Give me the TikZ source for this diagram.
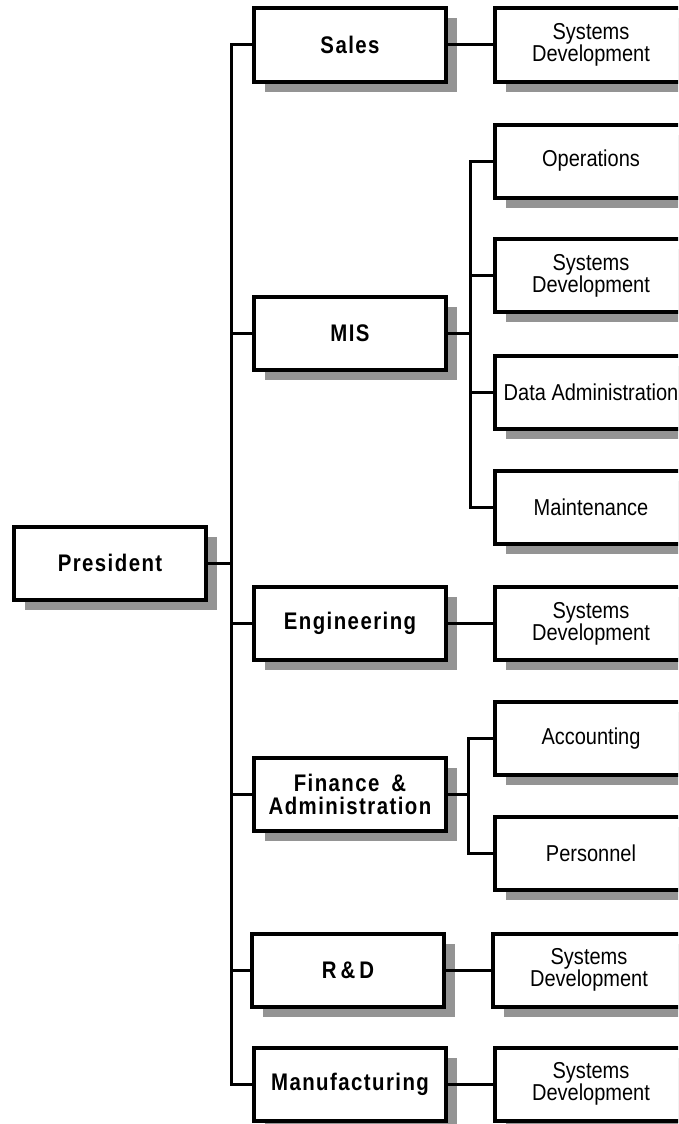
\documentclass[tikz,border=0pt]{standalone}
\usepackage{fontspec}
\newfontfamily\leftfont[LetterSpace=6,FakeStretch=0.85]{Liberation Sans}
\newfontfamily\rightfont[FakeStretch=0.87]{Liberation Sans}
\usetikzlibrary{shadows}
\tikzset{
  box/.style={draw, line width=4pt, fill=white, minimum width=192pt, minimum height=73pt,
    inner sep=0pt, align=center,
    drop shadow={shadow xshift=11pt, shadow yshift=-10pt, fill=black!42, opacity=1}},
  lbox/.style={box, font=\leftfont\bfseries\fontsize{24}{23}\selectfont},
  rbox/.style={box, font=\rightfont\fontsize{23}{22}\selectfont},
  wire/.style={line width=3pt, line join=miter}
}
\begin{document}
\begin{tikzpicture}[x=1pt, y=-1pt]
\path[use as bounding box] (0,0) rectangle (678,1124);
\clip (0,0) rectangle (678,1124);
% left column
\node[lbox] (pres) at (110,563) {President};
\node[lbox] (sales) at (350,45) {Sales};
\node[lbox] (mis) at (350,333.5) {MIS};
\node[lbox] (eng) at (350,623.5) {Engineering};
\node[lbox] (fin) at (350,794) {Finance\enspace\&\\Administration};
\node[lbox] (rd) at (348,970) {R\,\&\,D};
\node[lbox] (mfg) at (350,1084) {Manufacturing};
% right column
\node[rbox] (sd1) at (591,45) {Systems\\Development};
\node[rbox] (ops) at (591,161) {Operations};
\node[rbox] (sd2) at (591,275.5) {Systems\\Development};
\node[rbox] (dat) at (591,392.5) {Data Administration};
\node[rbox] (mnt) at (591,507.5) {Maintenance};
\node[rbox] (sd3) at (591,623.5) {Systems\\Development};
\node[rbox] (acc) at (591,738.5) {Accounting};
\node[rbox] (per) at (591,853.5) {Personnel};
\node[rbox] (sd4) at (589,970) {Systems\\Development};
\node[rbox] (sd5) at (591,1084) {Systems\\Development};
% bus coordinates
\coordinate (bus) at (231,0);
\coordinate (subm) at (470,0);
\coordinate (subf) at (468,0);
% main bus
\draw[wire] (pres.east) -- (bus |- pres.east);
\draw[wire] (sales.west) -- (bus |- sales.west) -- (bus |- mfg.west) -- (mfg.west);
\draw[wire] (bus |- mis.west) -- (mis.west);
\draw[wire] (bus |- eng.west) -- (eng.west);
\draw[wire] (bus |- fin.west) -- (fin.west);
\draw[wire] (bus |- rd.west) -- (rd.west);
% direct links
\draw[wire] (sales.east) -- (sd1.west);
\draw[wire] (eng.east) -- (sd3.west);
\draw[wire] (rd.east) -- (sd4.west);
\draw[wire] (mfg.east) -- (sd5.west);
% MIS subtree
\draw[wire] (mis.east) -- (subm |- mis.east);
\draw[wire] (ops.west) -- (subm |- ops.west) -- (subm |- mnt.west) -- (mnt.west);
\draw[wire] (subm |- sd2.west) -- (sd2.west);
\draw[wire] (subm |- dat.west) -- (dat.west);
% Finance subtree
\draw[wire] (fin.east) -- (subf |- fin.east);
\draw[wire] (acc.west) -- (subf |- acc.west) -- (subf |- per.west) -- (per.west);
\end{tikzpicture}
\end{document}
